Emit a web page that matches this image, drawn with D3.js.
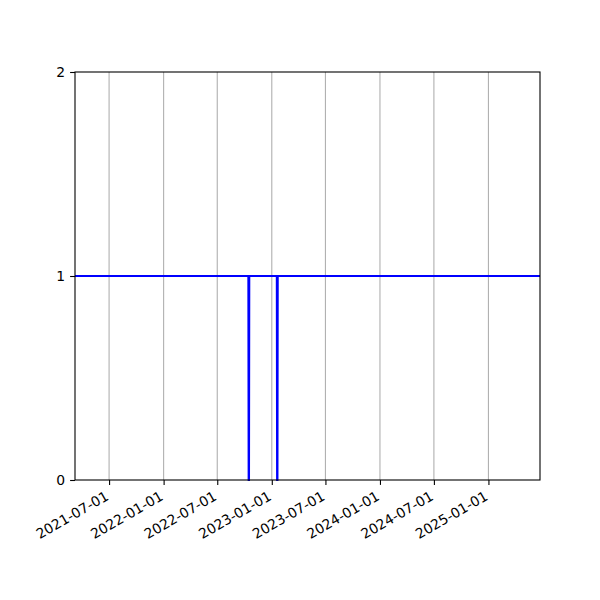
<!DOCTYPE html>
<html>
<head>
<meta charset="utf-8">
<script src="https://cdn.jsdelivr.net/npm/d3@7"></script>
<style>
  html, body { margin: 0; padding: 0; background: #fff; }
  svg { display: block; }
  text { font-family: "DejaVu Sans", sans-serif; }
</style>
</head>
<body>
<svg id="chart" width="600" height="600"></svg>
<script>
// ---- data ----
const dates = ["2021-03-08",
               "2022-10-14", "2022-10-15", "2022-10-16", "2022-10-17",
               "2023-01-18", "2023-01-19", "2023-01-20", "2023-01-21",
               "2025-06-24"];
const values = [1, 1, 0, 0, 1, 1, 0, 0, 1, 1];
const xTickLabels = ["2021-07-01", "2022-01-01", "2022-07-01", "2023-01-01",
                     "2023-07-01", "2024-01-01", "2024-07-01", "2025-01-01"];
const yTickValues = [0, 1, 2];
const xDomain = ["2021-03-08", "2025-06-24"];
const yDomain = [0, 2];

// ---- layout ----
const m = { left: 75, right: 540, top: 72, bottom: 480 };
const parse = d3.utcParse("%Y-%m-%d");
const fontPx = 13.9;

const svg = d3.select("#chart");
const x = d3.scaleUtc().domain(xDomain.map(parse)).range([m.left, m.right]);
const y = d3.scaleLinear().domain(yDomain).range([m.bottom, m.top]);

const xTicks = xTickLabels.map(parse);

// grid lines (vertical only)
svg.append("g")
  .selectAll("line")
  .data(xTicks)
  .join("line")
  .attr("x1", d => x(d)).attr("x2", d => x(d))
  .attr("y1", m.top).attr("y2", m.bottom)
  .attr("stroke", "#b0b0b0")
  .attr("stroke-width", 1.1);

// data line
const pts = dates.map((d, i) => [parse(d), values[i]]);
const line = d3.line().x(d => x(d[0])).y(d => y(d[1]));
svg.append("path")
  .datum(pts)
  .attr("d", line)
  .attr("fill", "none")
  .attr("stroke", "#0000ff")
  .attr("stroke-width", 2.08)
  .attr("stroke-linejoin", "miter");

// x axis
const xAxis = d3.axisBottom(x)
  .tickValues(xTicks)
  .tickFormat(d3.utcFormat("%Y-%m-%d"))
  .tickSize(4.9)
  .tickPadding(4.9)
  .tickSizeOuter(0);
const gx = svg.append("g")
  .attr("transform", `translate(0,${m.bottom})`)
  .call(xAxis);
gx.select(".domain").remove();
gx.selectAll(".tick line").attr("stroke", "#000").attr("stroke-width", 1.1);
gx.selectAll(".tick text")
  .attr("font-size", fontPx)
  .attr("fill", "#000")
  .attr("text-anchor", "end")
  .attr("dy", null)
  .attr("y", 0)
  .attr("transform", "translate(0,19) rotate(-30)");

// y axis
const yAxis = d3.axisLeft(y)
  .tickValues(yTickValues)
  .tickFormat(d3.format("d"))
  .tickSize(4.9)
  .tickPadding(4.9)
  .tickSizeOuter(0);
const gy = svg.append("g")
  .attr("transform", `translate(${m.left},0)`)
  .call(yAxis);
gy.select(".domain").remove();
gy.selectAll(".tick line").attr("stroke", "#000").attr("stroke-width", 1.1);
gy.selectAll(".tick text").attr("font-size", fontPx).attr("fill", "#000");

// spines
svg.append("rect")
  .attr("x", m.left).attr("y", m.top)
  .attr("width", m.right - m.left).attr("height", m.bottom - m.top)
  .attr("fill", "none")
  .attr("stroke", "#000")
  .attr("stroke-width", 1.1);
</script>
</body>
</html>
